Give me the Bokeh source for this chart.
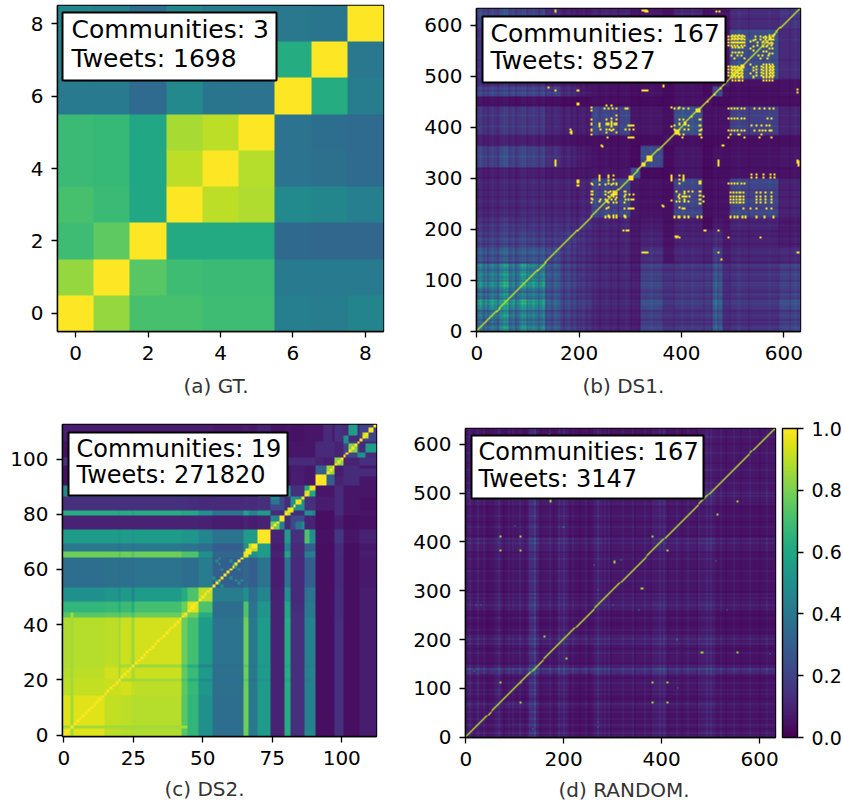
from bokeh.plotting import figure
from bokeh.layouts import row, column
from bokeh.models import (LinearColorMapper, FixedTicker, BoxAnnotation, Label, ColorBar,
                          PrintfTickFormatter, Range1d, Title)
from bokeh.palettes import Viridis256
from bokeh.embed import file_html
from bokeh.resources import INLINE
import numpy as np

# ---------- captions, annotation texts, ticks ----------
CAPTIONS = ["(a) GT.", "(b) DS1.", "(c) DS2.", "(d) RANDOM."]
COMMUNITIES = ["Communities: 3", "Communities: 167", "Communities: 19", "Communities: 167"]
TWEETS = ["Tweets: 1698", "Tweets: 8527", "Tweets: 271820", "Tweets: 3147"]
TICKS_A = [0, 2, 4, 6, 8]
TICKS_BD = [0, 200, 400, 600]
TICKS_BDY = [0, 100, 200, 300, 400, 500, 600]
TICKS_CX = [0, 25, 50, 75, 100]
TICKS_CY = [0, 20, 40, 60, 80, 100]
TICKS_CB = [0.0, 0.2, 0.4, 0.6, 0.8, 1.0]

# ---------- GT: 9 x 9 similarities (row 0 is the bottom row) ----------
GT = [
    [1.00, .84, .71, .71, .69, .69, .43, .42, .45],
    [.84, 1.00, .74, .69, .68, .68, .41, .41, .41],
    [.69, .75, 1.00, .61, .61, .61, .34, .33, .33],
    [.71, .68, .60, 1.00, .90, .88, .48, .46, .43],
    [.68, .67, .60, .90, 1.00, .89, .38, .37, .35],
    [.68, .67, .60, .87, .90, 1.00, .38, .36, .35],
    [.41, .41, .35, .47, .39, .38, 1.00, .62, .42],
    [.44, .42, .36, .46, .40, .39, .62, 1.00, .40],
    [.46, .44, .36, .46, .42, .41, .40, .39, 1.00],
]

# ---------- DS1: band edges + lower triangle of band values (percent) ----------
B_EDGES = [0, 20, 45, 65, 85, 105, 135, 165, 200, 225, 300, 320, 365, 385, 440, 460, 480, 495, 590, 630]
B_TRI = [
    [34],
    [33, 36],
    [44, 45, 50],
    [32, 33, 42, 34],
    [42, 40, 48, 36, 46],
    [38, 36, 44, 35, 44, 38],
    [26, 24, 28, 24, 26, 26, 22],
    [18, 18, 20, 18, 20, 18, 16, 18],
    [14, 14, 16, 14, 14, 14, 13, 13, 14],
    [10, 10, 11, 10, 11, 11, 10, 10, 10, 20],
    [8, 8, 9, 8, 9, 8, 7, 7, 6, 6, 26],
    [20, 18, 22, 18, 20, 18, 14, 10, 7, 5, 3, 22],
    [8, 8, 9, 8, 8, 8, 6, 5, 4, 4, 3, 3, 5],
    [15, 14, 16, 15, 15, 15, 11, 9, 8, 20, 6, 6, 4, 24],
    [5, 5, 5, 4, 5, 5, 4, 3, 3, 4, 3, 3, 3, 5, 5],
    [28, 26, 30, 26, 26, 24, 18, 12, 7, 5, 4, 5, 3, 5, 3, 22],
    [12, 12, 13, 12, 12, 12, 8, 7, 5, 5, 4, 4, 3, 5, 3, 4, 10],
    [14, 13, 15, 14, 14, 14, 11, 9, 10, 20, 5, 5, 4, 18, 4, 4, 5, 24],
    [20, 18, 22, 18, 18, 18, 12, 8, 7, 9, 5, 6, 4, 10, 4, 5, 5, 12, 15],
]
B_SINGLE_SIDED = [  # (x0, x1, y0, y1, percent): places where the picture is not mirrored
    (440, 460, 0, 135, 16), (440, 460, 135, 200, 10), (365, 385, 0, 135, 14), (0, 135, 460, 480, 20),
]
B_DARK_LINES = [14, 22, 40, 62, 76, 98, 120, 134, 146, 170, 186, 196, 214, 240, 262, 276, 300, 318, 362,
                384, 442, 458, 470, 494, 530, 590, 610]
B_LIGHT_LINES = [6, 30, 52, 58, 70, 88, 94, 110, 128, 152, 178, 206, 230, 252, 290, 340, 400, 420, 466, 510, 570, 620]
B_ROWS = [  # (y, x positions of bright cells)
    (300, [238, 256]), (305, [238, 256]), (295, [238, 256]),
    (286, [224, 238, 250, 263, 273]),
    (272, [224, 250, 260, 270, 288]),
    (266, [224, 250, 262, 272, 288, 296, 304]),
    (256, [224, 240, 250, 262, 270, 288, 300]),
    (238, [252, 296, 304]),
    (223, [250, 258, 266, 273, 288]),
    (434, [248, 256, 264, 272, 288, 293]),
    (414, [262]), (405, [256, 262, 268]), (402, [296, 304]),
    (395, [223, 240, 252, 258, 266, 288, 296, 304]),
    (378, [254, 296, 304]),
    (288, [490, 496, 502, 508, 514, 520]),
    (300, [535, 545, 558, 572, 580]), (306, [535, 545, 558, 572, 580]),
    (270, [495, 501, 507, 513, 519, 545, 552, 562, 575]),
    (263, [495, 501, 507, 513, 519, 545, 552, 562, 575]),
    (256, [495, 501, 507, 513, 519, 545, 552, 562, 575]),
    (250, [495, 501, 507, 513, 519, 545, 552, 562, 575]),
    (238, [518, 532, 545, 565, 575]),
    (223, [495, 502, 509, 516, 523, 545, 560, 578]),
    (434, [490, 496, 502, 508, 514, 520, 540, 550, 560, 570, 578]),
    (414, [490, 496, 502, 508, 514, 520, 566, 575]),
    (393, [490, 496, 502, 508, 514, 520, 540, 550, 556, 562, 570, 575]),
    (385, [495, 510, 555]), (378, [490, 520, 550, 575]),
    (402, [535, 545, 555, 565, 570]),
    (300, [378, 403]), (305, [378, 403]), (295, [378, 403]),
    (272, [388, 404, 412, 420]), (262, [392, 400, 408, 440]), (252, [388, 404, 412, 440]),
    (238, [400, 405]), (223, [385, 392, 405, 412, 430, 436]),
    (402, [385, 412]), (395, [384, 395, 405, 412, 436]), (378, [400, 436]), (434, [385, 392, 402, 412]),
    (576, [490, 496, 502, 508, 514, 520, 542, 552, 562, 570, 578]),
    (570, [490, 496, 502, 508, 514, 520, 542, 552, 562, 570, 578]),
    (564, [490, 496, 502, 508, 514, 520, 546, 556, 566, 574]),
    (558, [490, 496, 502, 508, 514, 520, 546, 556, 566, 574]),
    (538, [496, 508, 514, 548, 556, 568]),
    (532, [502, 520, 552, 566]),
    (516, [490, 496, 502, 508, 514, 545, 555, 565, 572, 578]),
    (510, [490, 496, 502, 508, 514, 545, 555, 565, 572, 578]),
    (504, [490, 496, 502, 508, 514, 545, 555, 565, 572, 578]),
    (498, [490, 496, 502, 508, 514, 545, 555, 565, 572, 578]),
    (624, [153, 328, 332, 467, 472]), (470, [153, 328, 332]),
    (326, [153, 470, 626]), (322, [153, 470, 626]), (330, [153, 470, 626]),
    (152, [328, 332, 470, 626]), (390, [184]), (386, [184]), (443, [197]), (290, [197]),
    (183, [388, 394, 490, 552]), (243, [363]), (363, [480]), (360, [244]), (479, [363]),
    (476, [139]), (197, [285, 295, 445, 470]),
]
B_DIAG_BLOCKS = [(297, 307), (333, 345), (323, 331), (386, 396), (428, 436), (515, 523), (266, 272), (252, 258),
                 (405, 411), (418, 422), (448, 452), (463, 467), (475, 479), (570, 576), (580, 584)]

# ---------- DS2: band edges + lower triangle of band values (percent) ----------
C_EDGES = [0, 4, 15, 20, 21, 25, 26, 43, 45, 49, 54, 65, 67, 70, 75, 80, 82, 87, 91, 98, 101, 107, 113]
C_TRI = [
    [97],
    [95, 95],
    [90, 91, 92],
    [90, 91, 92, 87],
    [89, 90, 93, 86, 93],
    [88, 89, 91, 85, 86, 87],
    [88, 89, 90, 86, 92, 85, 93],
    [74, 74, 75, 72, 76, 72, 77, 90],
    [66, 66, 67, 62, 68, 62, 70, 78, 95],
    [50, 50, 52, 48, 54, 46, 55, 62, 72, 90],
    [36, 36, 37, 36, 37, 36, 38, 36, 36, 42, 30],
    [78, 78, 78, 74, 78, 74, 78, 72, 72, 50, 33, 95],
    [40, 40, 40, 38, 40, 38, 40, 38, 38, 36, 30, 50, 90],
    [55, 55, 55, 53, 55, 52, 55, 52, 52, 46, 38, 55, 55, 97],
    [10, 10, 10, 10, 10, 10, 10, 10, 10, 9, 8, 10, 8, 10, 45],
    [62, 62, 62, 60, 62, 60, 62, 60, 60, 50, 38, 58, 45, 55, 12, 90],
    [14, 14, 14, 14, 14, 14, 14, 14, 13, 12, 12, 13, 12, 14, 22, 13, 50],
    [44, 44, 44, 42, 44, 42, 44, 40, 40, 38, 30, 42, 30, 50, 10, 42, 14, 60],
    [4, 4, 4, 4, 4, 4, 4, 4, 4, 4, 4, 4, 4, 5, 4, 4, 8, 6, 30],
    [14, 14, 14, 14, 14, 14, 14, 13, 13, 13, 12, 13, 12, 16, 8, 13, 12, 12, 8, 30],
    [4, 4, 4, 4, 4, 4, 4, 4, 4, 4, 4, 4, 4, 6, 4, 6, 6, 6, 12, 10, 20],
    [8, 8, 8, 8, 8, 8, 8, 8, 8, 8, 7, 8, 7, 9, 5, 6, 5, 6, 6, 14, 12, 20],
]
C_PATCHES = [  # (x0, x1, y0, y1, percent), mirrored
    (87, 89, 70, 75, 72), (0, 2, 87, 91, 48), (103, 106, 109, 113, 56), (101, 103, 106, 109, 50),
    (75, 78, 84, 87, 48), (87, 90, 80, 82, 50), (84, 86, 75, 78, 38),
    (91, 94, 98, 101, 10), (107, 113, 94, 97, 12), (0, 45, 3, 4, 86),
]
C_CELLS = [(56, 62), (57, 60), (58, 58), (60, 57), (56, 55), (60, 63), (63, 55), (64, 56), (62, 61), (54, 57)]
C_DIAG_BLOCKS = [(46, 48, 98), (66, 68, 100), (68, 70, 100), (70, 75, 100), (75, 78, 78), (78, 80, 100), (81, 83, 95),
                 (84, 86, 95), (87, 89, 92), (89, 91, 95), (91, 95, 100), (95, 98, 85), (98, 101, 82),
                 (103, 106, 82), (108, 110, 92), (110, 112, 98)]

# ---------- RANDOM: band edges + lower triangle (percent) ----------
D_EDGES = [0, 30, 60, 75, 100, 130, 145, 190, 210, 260, 280, 380, 410, 480, 510, 630]
D_TRI = [
    [7],
    [6, 5],
    [8, 7, 9],
    [6, 5, 8, 5],
    [7, 5, 8, 5, 6],
    [13, 12, 14, 12, 13, 20],
    [6, 5, 7, 5, 6, 13, 6],
    [8, 7, 9, 7, 8, 15, 8, 11],
    [5, 4, 6, 4, 5, 12, 5, 8, 5],
    [8, 7, 9, 7, 8, 15, 8, 10, 7, 10],
    [6, 5, 7, 5, 6, 12, 6, 8, 5, 8, 6],
    [8, 7, 9, 7, 8, 15, 8, 10, 7, 10, 7, 10],
    [6, 5, 7, 5, 6, 12, 6, 8, 5, 8, 6, 8, 6],
    [8, 7, 9, 7, 8, 14, 8, 10, 7, 10, 7, 10, 7, 10],
    [6, 5, 6, 5, 5, 11, 5, 7, 4, 7, 5, 7, 5, 7, 6],
]
D_DARK_LINES = [16, 44, 78, 120, 152, 180, 232, 250, 296, 344, 378, 412, 440, 470, 530, 560, 600]
D_LIGHT_LINES = [8, 24, 36, 52, 68, 88, 96, 110, 128, 140, 146, 172, 190, 200, 218, 244, 270, 284, 292, 320, 340, 364,
                 396, 404, 430, 452, 476, 492, 500, 520, 546, 580, 614]
D_BRIGHT = [(70, 111), (111, 111), (381, 111), (410, 111), (111, 70), (381, 70), (410, 70), (205, 160), (161, 205),
            (482, 172), (552, 172), (357, 302), (302, 358), (70, 410), (111, 410), (381, 410), (70, 381), (111, 381),
            (410, 381), (172, 481), (552, 481), (513, 454)]
D_MID = [(363, 317), (533, 260), (352, 260), (261, 352), (519, 407), (198, 431), (270, 20), (270, 300), (430, 200),
         (432, 100), (20, 270), (30, 270), (138, 140), (510, 360), (620, 170), (16, 137)]


def bands_to_matrix(edges, tri, n, step):
    centres = (np.arange(n) + 0.5) * step
    idx = np.clip(np.searchsorted(edges, centres, side="right") - 1, 0, len(edges) - 2)
    m = np.zeros((n, n))
    for i in range(n):
        for j in range(n):
            a, b = max(idx[i], idx[j]), min(idx[i], idx[j])
            m[i, j] = tri[a][b] / 100
    return m


def mark(m, x, y, v, step, cells=1):
    n = m.shape[0]
    i, j = int(y / step), int(x / step)
    for a in range(i, min(i + cells, n)):
        for b in range(j, min(j + cells, n)):
            m[a, b] = v
            m[b, a] = v


def diagonal(m, v):
    n = m.shape[0]
    for k in range(n):
        m[k, k] = v
        if k + 1 < n:
            m[k + 1, k] = v


STEP = 2
N = 316
DS1 = bands_to_matrix(B_EDGES, B_TRI, N, STEP)
for x0, x1, y0, y1, v in B_SINGLE_SIDED:
    DS1[y0 // STEP:y1 // STEP, x0 // STEP:x1 // STEP] = v / 100
for l in B_DARK_LINES:
    k = int(l / STEP)
    DS1[k, :] *= 0.65
    DS1[:, k] *= 0.65
for l in B_LIGHT_LINES:
    k = int(l / STEP)
    DS1[k:k + 2, :] *= 1.2
    DS1[:, k:k + 2] *= 1.2
for y, xs in B_ROWS:
    for x in xs:
        mark(DS1, x, y, 1.0, STEP, 2)
diagonal(DS1, 0.9)
for s, e in B_DIAG_BLOCKS:
    DS1[int(s / STEP):int(e / STEP), int(s / STEP):int(e / STEP)] = 1.0

DS2 = bands_to_matrix(C_EDGES, C_TRI, 113, 1)
for x0, x1, y0, y1, v in C_PATCHES:
    DS2[y0:y1, x0:x1] = v / 100
    DS2[x0:x1, y0:y1] = v / 100
for x, y in C_CELLS:
    mark(DS2, x, y, 0.5, 1)
np.fill_diagonal(DS2, 1.0)
for s, e, v in C_DIAG_BLOCKS:
    DS2[s:e, s:e] = v / 100
    for k in range(s, e):
        DS2[k, k] = 1.0

RND = bands_to_matrix(D_EDGES, D_TRI, N, STEP)
for l in D_DARK_LINES:
    k = int(l / STEP)
    RND[k, :] *= 0.55
    RND[:, k] *= 0.55
for l in D_LIGHT_LINES:
    k = int(l / STEP)
    RND[k, :] *= 1.9
    RND[:, k] *= 1.9
for x, y in D_BRIGHT:
    mark(RND, x, y, 0.85, STEP, 2)
for x, y in D_MID:
    mark(RND, x, y, 0.62, STEP, 1)
diagonal(RND, 0.88)

mapper = LinearColorMapper(palette=Viridis256, low=0, high=1)
FONT = "DejaVu Sans"


def panel(z, x0, dw, xticks, yticks, rect, left, right, top, bottom, margin, idx, box, tx, bases, cap_x, cap_off, sz, tick_sz):
    fl, fr, ft, fb = rect          # frame edges in page pixels
    sx = dw / (fr - fl)
    sy = dw / (fb - ft)
    dx = lambda px: x0 + (px - fl) * sx
    dy = lambda py: x0 + (fb - py) * sy
    p = figure(frame_width=fr - fl, frame_height=fb - ft, output_backend="svg", toolbar_location=None,
               x_range=Range1d(x0, x0 + dw), y_range=Range1d(x0, x0 + dw), margin=margin,
               min_border_left=left, min_border_right=right, min_border_top=top, min_border_bottom=bottom)
    p.image(image=[np.asarray(z)], x=x0, y=x0, dw=dw, dh=dw, color_mapper=mapper)
    p.grid.visible = False
    p.outline_line_color = "black"
    p.outline_line_width = 1.4
    p.xaxis.ticker = FixedTicker(ticks=xticks)
    p.yaxis.ticker = FixedTicker(ticks=yticks)
    for ax in (p.xaxis[0], p.yaxis[0]):
        ax.major_label_text_font = FONT
        ax.major_label_text_font_size = f"{tick_sz}px"
        ax.major_label_text_color = "black"
        ax.major_tick_line_color = "black"
        ax.major_tick_line_width = 1.3
        ax.major_tick_out = 6
        ax.major_tick_in = 0
        ax.minor_tick_line_color = None
        ax.axis_line_color = "black"
        ax.axis_line_width = 1.4
        ax.major_label_standoff = 8
    p.add_layout(BoxAnnotation(left=dx(box[0]), right=dx(box[1]), top=dy(box[2]), bottom=dy(box[3]),
                               fill_color="white", fill_alpha=1, line_color="black", line_width=2, line_alpha=1))
    for text, base in zip((COMMUNITIES[idx], TWEETS[idx]), bases):
        p.add_layout(Label(x=dx(tx), y=dy(base), text=text, text_font=FONT, text_font_size=f"{sz}px",
                           text_color="black", text_baseline="alphabetic", text_align="left"))
    p.add_layout(Title(text=CAPTIONS[idx], align="left", offset=cap_x - fl, standoff=cap_off,
                       text_font=FONT, text_font_size="20px", text_font_style="normal", text_color="#333333"),
                 "below")
    return p


pa = panel(GT, -0.5, 9, TICKS_A, TICKS_A, (57, 383, 5, 331), 57, 32, 5, 74, 0, 0,
           (62, 276, 12, 80), 71, (29, 58), 183, 18, 25, 20)
pb = panel(DS1, -0.5, 633, TICKS_BD, TICKS_BDY, (476, 800, 8, 331), 61, 35, 5, 74, (3, 0, 0, 0), 1,
           (482, 725, 16, 82), 490, (33, 60), 582, 18, 25, 20)
pc = panel(DS2, -0.5, 113, TICKS_CX, TICKS_CY, (62, 376, 423, 735), 62, 34, 18, 67, 0, 2,
           (68, 287, 431, 494), 76, (447, 473), 164, 15, 24, 20)
pd = panel(RND, -0.5, 633, TICKS_BD, TICKS_BDY, (464, 774, 427, 736), 54, 0, 18, 66, (4, 0, 0, 0), 3,
           (470, 702, 434, 497), 477, (450, 477), 557, 15, 24, 20)

cb = ColorBar(color_mapper=mapper, ticker=FixedTicker(ticks=TICKS_CB), formatter=PrintfTickFormatter(format="%.1f"),
              width=15, height=309, padding=0, margin=0, major_tick_in=0, major_tick_out=6,
              major_tick_line_color="black", major_tick_line_width=1.3, bar_line_color="black", bar_line_width=1.4,
              major_label_text_font=FONT, major_label_text_font_size="19px", major_label_text_color="black",
              label_standoff=8, location=(7, 0))
pd.add_layout(cb, "right")
pd.min_border_right = 66

layout = column(row(pa, pb, spacing=0, margin=0), row(pc, pd, spacing=0, margin=0), spacing=0, margin=0)
open("out.html", "w").write(file_html(layout, INLINE))
